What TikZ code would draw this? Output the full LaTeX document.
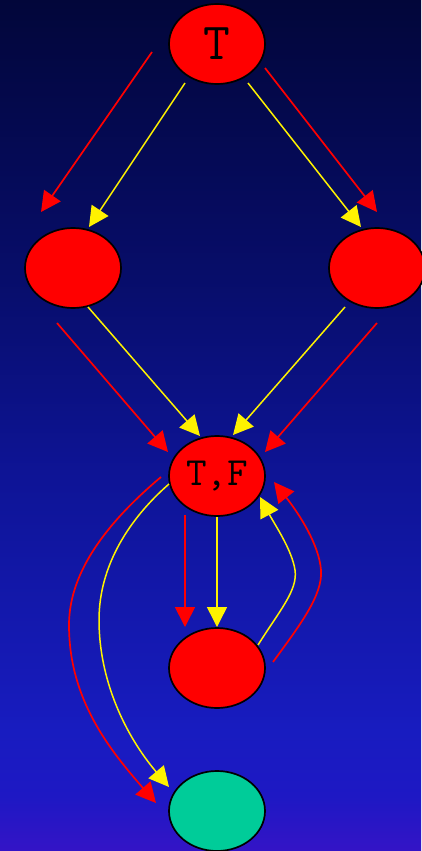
\documentclass[tikz,border=0pt]{standalone}
\usepackage{fontspec}
\usetikzlibrary{arrows.meta,shapes.geometric}
\definecolor{bgA}{RGB}{2,6,58}
\definecolor{bgB}{RGB}{7,13,105}
\definecolor{bgC}{RGB}{14,20,150}
\definecolor{bgD}{RGB}{24,28,192}
\definecolor{bgE}{RGB}{30,24,196}
\definecolor{bgF}{RGB}{52,20,198}
\definecolor{tealfill}{RGB}{0,204,153}
\pgfdeclareverticalshading{bggrad}{100bp}{color(0bp)=(bgF); color(25bp)=(bgF); color(28.2bp)=(bgE); color(32bp)=(bgD); color(47bp)=(bgC); color(59bp)=(bgB); color(75bp)=(bgA); color(100bp)=(bgA)}
\tikzset{
  gnode/.style={ellipse, draw=black, line width=1.7pt, fill=red, minimum width=96pt, minimum height=80pt, inner sep=0pt},
  rede/.style={draw=red, line width=1.7pt, -{Triangle[length=20pt,width=20pt]}},
  yele/.style={draw=yellow, line width=1.5pt, -{Triangle[length=20pt,width=20pt]}}
}
\begin{document}
\begin{tikzpicture}[x=1pt,y=-1pt]
\shade[shading=bggrad] (0,0) rectangle (421,851);
\useasboundingbox (0,0) rectangle (421,851);
\node[gnode, font=\ttfamily\fontsize{52}{52}\selectfont] (T) at (217,44) {T};
\node[gnode] (L) at (73,268) {};
\node[gnode] (R) at (377,268) {};
\node[gnode, font=\ttfamily\fontsize{40}{40}\selectfont] (TF) at (217,476) {T,F};
\node[gnode] (M) at (217,668) {};
\node[gnode, fill=tealfill] (G) at (217,811) {};
% T to L and R
\draw[rede] ([shift={(-65,8)}]T.center) -- ([shift={(-32,-56)}]L.center);
\draw[yele] ([shift={(-32,39)}]T.center) -- ([shift={(16,-41)}]L.center);
\draw[yele] ([shift={(31,39)}]T.center) -- ([shift={(-16,-41)}]R.center);
\draw[rede] ([shift={(48,24)}]T.center) -- ([shift={(0,-56)}]R.center);
% L and R to TF
\draw[yele] ([shift={(15,39)}]L.center) -- ([shift={(-17,-40)}]TF.center);
\draw[rede] ([shift={(-16,55)}]L.center) -- ([shift={(-49,-24)}]TF.center);
\draw[yele] ([shift={(-32,39)}]R.center) -- ([shift={(16,-41)}]TF.center);
\draw[rede] ([shift={(0,55)}]R.center) -- ([shift={(48,-24)}]TF.center);
% TF to M
\draw[rede] ([shift={(-32,39)}]TF.center) -- ([shift={(-32,-41)}]M.center);
\draw[yele] ([shift={(0,41)}]TF.center) -- ([shift={(0,-41)}]M.center);
% M back to TF
\draw[yele] ([shift={(41,-23)}]M.center) .. controls (280,610) and (298,590) .. (295,570) .. controls (292,550) and (275,525) .. ([shift={(43,21)}]TF.center);
\draw[rede] ([shift={(56,-6)}]M.center) .. controls (300,625) and (323,595) .. (321,570) .. controls (319,545) and (300,515) .. ([shift={(57,6)}]TF.center);
% TF to G
\draw[yele] ([shift={(-48,8)}]TF.center) .. controls (130,518) and (99,565) .. (99,620) .. controls (99,680) and (125,735) .. ([shift={(-48,-24)}]G.center);
\draw[rede] ([shift={(-56,1)}]TF.center) .. controls (110,520) and (69,570) .. (69,625) .. controls (69,700) and (110,750) .. ([shift={(-61,-8)}]G.center);
\end{tikzpicture}
\end{document}
